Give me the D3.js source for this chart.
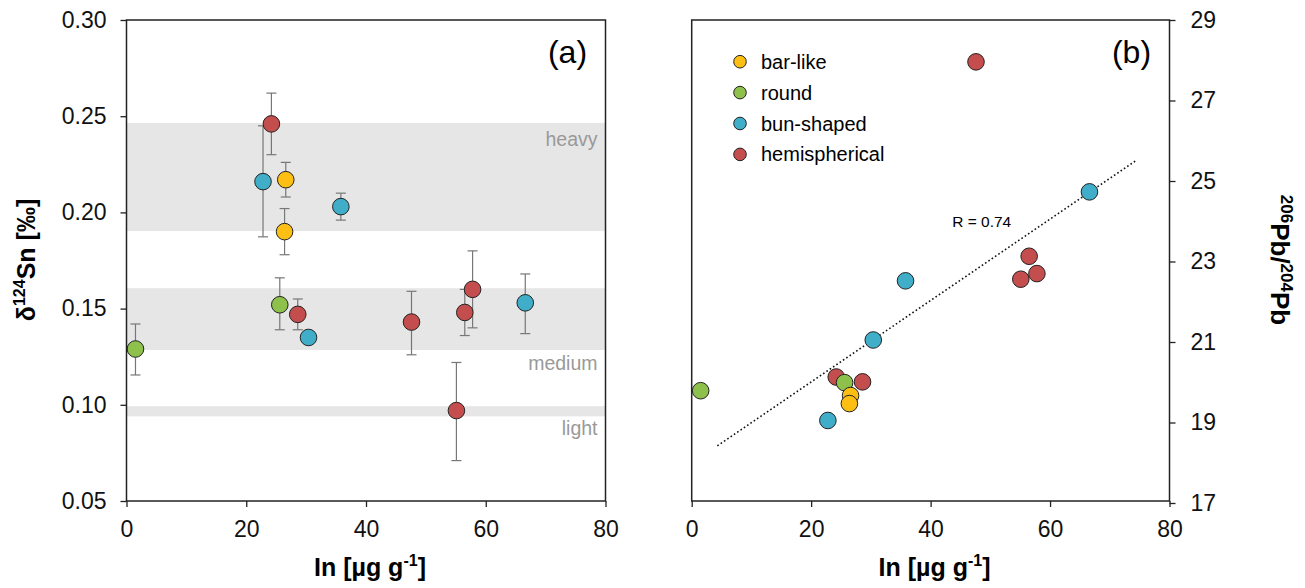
<!DOCTYPE html>
<html lang="en">
<head>
    <meta charset="UTF-8">
    <title>Sn isotopes vs In</title>
    <script src="https://d3js.org/d3.v7.min.js"></script>
    <style>
        body { margin: 0; background: #fff; }
        svg { font-family: "Liberation Sans", Arial, sans-serif; }
        .axis text { font-size: 23px; fill: #111; }
        .axis path, .axis line { stroke: #222; stroke-width: 1.3; }
    </style>
</head>
<body>
    <svg width="1305" height="588"></svg>
    <script>
        // data
        const shapes = ["bar-like", "round", "bun-shaped", "hemispherical"];
        const shapeColors = ["#fdbf14", "#8dc14b", "#40aec9", "#c44e4d"];

        const shape = ["round", "bun-shaped", "hemispherical", "round", "bar-like", "bar-like", "hemispherical",
            "bun-shaped", "bun-shaped", "hemispherical", "hemispherical", "hemispherical", "hemispherical", "bun-shaped"];
        const inConc = [1.5, 22.8, 24.2, 25.6, 26.6, 26.4, 28.6, 30.4, 35.8, 47.6, 55.1, 56.5, 57.8, 66.6];
        const deltaSn = [0.129, 0.216, 0.246, 0.152, 0.217, 0.190, 0.147, 0.135, 0.203, 0.143, 0.097, 0.148, 0.160, 0.153];
        const errLow = [0.1155, 0.1873, 0.230, 0.139, 0.208, 0.178, 0.139, null, 0.196, 0.126, 0.071, 0.136, 0.140, 0.137];
        const errHigh = [0.142, 0.245, 0.262, 0.166, 0.226, 0.202, 0.155, null, 0.210, 0.159, 0.122, 0.160, 0.180, 0.168];
        const pbRatio = [19.79, 19.05, 20.13, 19.99, 19.67, 19.47, 20.01, 21.05, 22.52, 27.96, 22.56, 23.13, 22.70, 24.73];

        const bandNames = ["heavy", "medium", "light"];
        const bandLow = [0.1903, 0.1285, 0.0940];
        const bandHigh = [0.2465, 0.1606, 0.0993];

        const fitX = [4.3, 74.3];
        const fitY = [18.42, 25.50];
        const fitLabel = "R = 0.74";

        const xTicks = [0, 20, 40, 60, 80];
        const snTicks = [0.05, 0.10, 0.15, 0.20, 0.25, 0.30];
        const pbTicks = [17, 19, 21, 23, 25, 27, 29];

        const svg = d3.select("svg");
        const plotTop = 20, plotBottom = 501;
        const color = d3.scaleOrdinal().domain(shapes).range(shapeColors);

        const xa = d3.scaleLinear().domain([0, 80]).range([126.5, 605.5]);
        const xb = d3.scaleLinear().domain([0, 80]).range([691.7, 1169.5]);
        const ya = d3.scaleLinear().domain([0.05, 0.30]).range([plotBottom, plotTop]);
        const yb = d3.scaleLinear().domain([17, 29]).range([plotBottom + 2, plotTop]);

        // ----- panel (a) -----
        const ga = svg.append("g");

        ga.selectAll(".band")
            .data(bandNames)
            .enter().append("rect")
            .attr("x", xa(0))
            .attr("width", xa(80) - xa(0))
            .attr("y", (d, i) => ya(bandHigh[i]))
            .attr("height", (d, i) => ya(bandLow[i]) - ya(bandHigh[i]))
            .attr("fill", "#e6e6e6");

        const bandLabelY = [ya(bandHigh[0]) + 23, ya(bandLow[1]) + 20, ya(bandLow[2]) + 19];
        ga.selectAll(".bandLabel")
            .data(bandNames)
            .enter().append("text")
            .attr("x", xa(80) - 8)
            .attr("y", (d, i) => bandLabelY[i])
            .attr("text-anchor", "end")
            .attr("font-size", 19.5)
            .attr("fill", "#999")
            .text(d => d);

        // error bars
        const eb = ga.selectAll(".err")
            .data(inConc.map((v, i) => i).filter(i => errLow[i] !== null))
            .enter().append("g")
            .attr("stroke", "#777")
            .attr("stroke-width", 1.2);
        eb.append("line")
            .attr("x1", i => xa(inConc[i])).attr("x2", i => xa(inConc[i]))
            .attr("y1", i => ya(errLow[i])).attr("y2", i => ya(errHigh[i]));
        eb.append("line")
            .attr("x1", i => xa(inConc[i]) - 5).attr("x2", i => xa(inConc[i]) + 5)
            .attr("y1", i => ya(errLow[i])).attr("y2", i => ya(errLow[i]));
        eb.append("line")
            .attr("x1", i => xa(inConc[i]) - 5).attr("x2", i => xa(inConc[i]) + 5)
            .attr("y1", i => ya(errHigh[i])).attr("y2", i => ya(errHigh[i]));

        ga.selectAll(".pt")
            .data(inConc)
            .enter().append("circle")
            .attr("cx", d => xa(d))
            .attr("cy", (d, i) => ya(deltaSn[i]))
            .attr("r", 8.3)
            .attr("fill", (d, i) => color(shape[i]))
            .attr("stroke", "#222")
            .attr("stroke-width", 1);

        ga.append("rect")
            .attr("x", xa(0)).attr("y", plotTop)
            .attr("width", xa(80) - xa(0)).attr("height", plotBottom - plotTop)
            .attr("fill", "none").attr("stroke", "#222").attr("stroke-width", 1.5);

        ga.append("g").attr("class", "axis")
            .attr("transform", `translate(0,${plotBottom})`)
            .call(d3.axisBottom(xa).tickValues(xTicks).tickSize(6).tickPadding(14).tickSizeOuter(0))
            .call(g => g.select(".domain").remove());
        ga.append("g").attr("class", "axis")
            .attr("transform", `translate(${xa(0)},0)`)
            .call(d3.axisLeft(ya).tickValues(snTicks).tickFormat(d3.format(".2f")).tickSize(6).tickPadding(14))
            .call(g => g.select(".domain").remove());

        ga.append("text")
            .attr("x", 567.5).attr("y", 63)
            .attr("text-anchor", "middle")
            .attr("font-size", 32)
            .text("(a)");

        const yLabA = ga.append("text")
            .attr("transform", "translate(35,260) rotate(-90)")
            .attr("text-anchor", "middle")
            .attr("font-size", 25)
            .attr("font-weight", "bold");
        yLabA.append("tspan").text("δ");
        yLabA.append("tspan").attr("font-size", 16).attr("dy", -10).text("124");
        yLabA.append("tspan").attr("dy", 10).text("Sn [‰]");

        // ----- panel (b) -----
        const gb = svg.append("g");

        gb.append("line")
            .attr("x1", xb(fitX[0])).attr("y1", yb(fitY[0]))
            .attr("x2", xb(fitX[1])).attr("y2", yb(fitY[1]))
            .attr("stroke", "#111")
            .attr("stroke-width", 1.6)
            .attr("stroke-dasharray", "1.6,2.4");

        gb.append("text")
            .attr("x", 981.7).attr("y", 227)
            .attr("text-anchor", "middle")
            .attr("font-size", 15.5)
            .text(fitLabel);

        gb.selectAll(".pt")
            .data(inConc)
            .enter().append("circle")
            .attr("cx", d => xb(d))
            .attr("cy", (d, i) => yb(pbRatio[i]))
            .attr("r", 8.3)
            .attr("fill", (d, i) => color(shape[i]))
            .attr("stroke", "#222")
            .attr("stroke-width", 1);

        gb.append("rect")
            .attr("x", xb(0)).attr("y", plotTop)
            .attr("width", xb(80) - xb(0)).attr("height", plotBottom - plotTop)
            .attr("fill", "none").attr("stroke", "#222").attr("stroke-width", 1.5);

        gb.append("g").attr("class", "axis")
            .attr("transform", `translate(0,${plotBottom})`)
            .call(d3.axisBottom(xb).tickValues(xTicks).tickSize(6).tickPadding(14).tickSizeOuter(0))
            .call(g => g.select(".domain").remove());
        gb.append("g").attr("class", "axis")
            .attr("transform", `translate(${xb(80)},0)`)
            .call(d3.axisRight(yb).tickValues(pbTicks).tickSize(6).tickPadding(15))
            .call(g => g.select(".domain").remove());

        gb.append("text")
            .attr("x", 1131.5).attr("y", 63)
            .attr("text-anchor", "middle")
            .attr("font-size", 32)
            .text("(b)");

        // legend
        const leg = gb.selectAll(".leg")
            .data(shapes)
            .enter().append("g")
            .attr("transform", (d, i) => `translate(740,${61.7 + i * 30.9})`);
        leg.append("circle")
            .attr("r", 6.3)
            .attr("fill", d => color(d))
            .attr("stroke", "#222")
            .attr("stroke-width", 1);
        leg.append("text")
            .attr("x", 21).attr("y", 7)
            .attr("font-size", 20)
            .text(d => d);

        const yLabB = gb.append("text")
            .attr("transform", "translate(1271,260) rotate(90)")
            .attr("text-anchor", "middle")
            .attr("font-size", 26)
            .attr("font-weight", "bold");
        yLabB.append("tspan").attr("font-size", 17).attr("dy", -10).text("206");
        yLabB.append("tspan").attr("dy", 10).text("Pb/");
        yLabB.append("tspan").attr("font-size", 17).attr("dy", -10).text("204");
        yLabB.append("tspan").attr("dy", 10).text("Pb");

        // x labels
        [xa, xb].forEach(x => {
            const t = svg.append("text")
                .attr("x", (x(0) + x(80)) / 2 + 4).attr("y", 576)
                .attr("text-anchor", "middle")
                .attr("font-size", 25)
                .attr("font-weight", "bold");
            t.append("tspan").text("In [µg g");
            t.append("tspan").attr("font-size", 16).attr("dy", -10).text("-1");
            t.append("tspan").attr("dy", 10).text("]");
        });
    </script>
</body>
</html>
